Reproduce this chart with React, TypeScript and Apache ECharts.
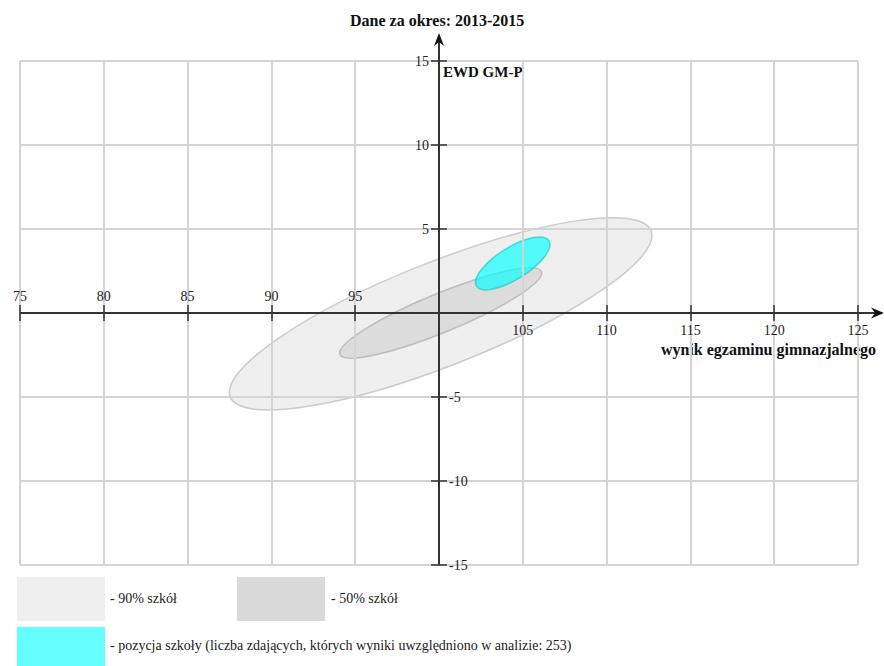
import React, { useEffect, useRef } from "react";
import * as echarts from "echarts";

// ---- data ----
const TITLE = "Dane za okres: 2013-2015";
const Y_NAME = "EWD GM-P";
const X_NAME = "wynik egzaminu gimnazjalnego";

const X_MIN = 75;
const X_MAX = 125;
const X_STEP = 5;
const Y_MIN = -15;
const Y_MAX = 15;
const Y_STEP = 5;
const X_CROSS = 100; // y axis drawn at this x value
const Y_CROSS = 0; // x axis drawn at this y value

// ellipses: 90% of schools, 50% of schools, school position
const ellipseNames = ["90% szkół", "50% szkół", "pozycja szkoły"];
const centerX = [100.1, 100.1, 104.4];
const centerY = [-0.05, 0.0, 2.95];
const semiMajor = [13.5, 6.5, 2.55];
const semiMinor = [3.1, 1.16, 0.95];
const tiltDeg = [21.5, 22.4, 32];

const legendLabels = [
  "- 90% szkół",
  "- 50% szkół",
  "- pozycja szkoły (liczba zdających, których wyniki uwzględniono w analizie: 253)",
];

// ---- styles ----
const FONT = "Liberation Serif, serif";
const W = 884;
const H = 666;
const GRID = { left: 20, right: 26, top: 61, bottom: 101 };
const ellipseFill = [
  "rgba(128,128,128,0.13)",
  "rgba(128,128,128,0.17)",
  "rgba(0,255,255,0.66)",
];
const ellipseStroke = [
  "rgba(150,150,150,0.45)",
  "rgba(140,140,140,0.45)",
  "rgba(0,190,200,0.55)",
];
const legendColors = ["#efefef", "#dadada", "#66ffff"];
const AXIS_COLOR = "#333333";
const GRID_COLOR = "#d4d4d4";

export default function App() {
  const ref = useRef<HTMLDivElement>(null);

  useEffect(() => {
    if (!ref.current) return;
    const chart = echarts.init(ref.current, null, { renderer: "svg" });

    const plotW = W - GRID.left - GRID.right;
    const plotH = H - GRID.top - GRID.bottom;
    const leftOffset = -plotW * (X_CROSS - X_MIN) / (X_MAX - X_MIN);
    const rightOffset = -plotW * (X_MAX - X_CROSS) / (X_MAX - X_MIN);
    const topOffset = -plotH * (Y_MAX - Y_CROSS) / (Y_MAX - Y_MIN);
    const bottomOffset = -plotH * (Y_CROSS - Y_MIN) / (Y_MAX - Y_MIN);

    const labelStyle = {
      color: "#222",
      fontFamily: FONT,
      fontSize: 14,
    };

    const tick = { show: true, length: 8, lineStyle: { color: AXIS_COLOR, width: 1.5 } };

    const baseX = {
      type: "value",
      min: X_MIN,
      max: X_MAX,
      interval: X_STEP,
      z: 3,
      axisLine: { show: false, onZero: false },
      splitLine: { show: true, lineStyle: { color: GRID_COLOR, width: 2 } },
      axisTick: tick,
    };
    const baseY = {
      type: "value",
      min: Y_MIN,
      max: Y_MAX,
      interval: Y_STEP,
      z: 3,
      axisLine: { show: false, onZero: false },
      splitLine: { show: true, lineStyle: { color: GRID_COLOR, width: 2 } },
      axisTick: tick,
    };

    const ellipseData = ellipseNames.map((_, i) => [
      centerX[i],
      centerY[i],
      semiMajor[i],
      semiMinor[i],
      tiltDeg[i],
    ]);

    const ellipseSeries = ellipseNames.map((name, i) => ({
      type: "custom",
      name,
      coordinateSystem: "cartesian2d",
      xAxisIndex: 0,
      yAxisIndex: 0,
      clip: false,
      z: 2 + i * 0.01,
      silent: true,
      encode: { x: 0, y: 1 },
      data: [ellipseData[i]],
      renderItem: (params: any, api: any) => {
        const c = api.coord([api.value(0), api.value(1)]);
        const unit = api.size([1, 1]);
        return {
          type: "ellipse",
          x: c[0],
          y: c[1],
          rotation: (api.value(4) * Math.PI) / 180,
          shape: { cx: 0, cy: 0, rx: api.value(2) * unit[0], ry: api.value(3) * unit[1] },
          style: { fill: ellipseFill[i], stroke: ellipseStroke[i], lineWidth: 1.5 },
        };
      },
    }));

    const axesSeries = {
      type: "custom",
      name: "axes",
      coordinateSystem: "cartesian2d",
      xAxisIndex: 0,
      yAxisIndex: 0,
      clip: false,
      silent: true,
      z: 5,
      encode: { x: 0, y: 1 },
      data: [[X_CROSS, Y_CROSS]],
      renderItem: (params: any, api: any) => {
        const o = api.coord([api.value(0), api.value(1)]);
        const l = api.coord([X_MIN, api.value(1)]);
        const r = api.coord([X_MAX, api.value(1)]);
        const t = api.coord([api.value(0), Y_MAX]);
        const b = api.coord([api.value(0), Y_MIN]);
        const xTip = r[0] + 26;
        const yTip = t[1] - 28;
        const st = { stroke: AXIS_COLOR, lineWidth: 2 };
        return {
          type: "group",
          children: [
            { type: "line", shape: { x1: l[0], y1: o[1], x2: xTip - 6, y2: o[1] }, style: st },
            { type: "line", shape: { x1: o[0], y1: b[1], x2: o[0], y2: yTip + 6 }, style: st },
            {
              type: "polygon",
              shape: {
                points: [
                  [xTip, o[1]],
                  [xTip - 13, o[1] - 5.5],
                  [xTip - 9, o[1]],
                  [xTip - 13, o[1] + 5.5],
                ],
              },
              style: { fill: "#111" },
            },
            {
              type: "polygon",
              shape: {
                points: [
                  [o[0], yTip],
                  [o[0] - 5, yTip + 13],
                  [o[0], yTip + 9],
                  [o[0] + 5, yTip + 13],
                ],
              },
              style: { fill: "#111" },
            },
          ],
        };
      },
    };

    const option: any = {
      animation: false,
      backgroundColor: "#ffffff",
      title: {
        text: TITLE,
        left: 350,
        top: 12,
        padding: 0,
        textStyle: { fontFamily: FONT, fontSize: 16, fontWeight: "bold", color: "#111" },
      },
      grid: { ...GRID, containLabel: false, outerBoundsMode: "none" },
      xAxis: [
        {
          ...baseX,
          position: "bottom",
          offset: bottomOffset,
          axisLabel: {
            ...labelStyle,
            margin: 10,
            formatter: (v: number) => (v > X_CROSS ? String(v) : ""),
          },
        },
        {
          ...baseX,
          position: "top",
          offset: topOffset,
          splitLine: { show: false },
          axisLabel: {
            ...labelStyle,
            margin: 10,
            formatter: (v: number) => (v < X_CROSS ? String(v) : ""),
          },
        },
      ],
      yAxis: [
        {
          ...baseY,
          position: "left",
          offset: leftOffset,
          axisLabel: {
            ...labelStyle,
            margin: 10,
            formatter: (v: number) => (v > Y_CROSS ? String(v) : ""),
          },
        },
        {
          ...baseY,
          position: "right",
          offset: rightOffset,
          splitLine: { show: false },
          axisLabel: {
            ...labelStyle,
            margin: 10,
            formatter: (v: number) => (v < Y_CROSS ? String(v) : ""),
          },
        },
      ],
      graphic: [
        {
          type: "text",
          left: 443,
          top: 64,
          style: { text: Y_NAME, font: `bold 15px ${FONT}`, fill: "#111" },
        },
        {
          type: "text",
          right: 8,
          top: 341,
          style: { text: X_NAME, font: `bold 16px ${FONT}`, fill: "#111" },
        },
        { type: "rect", left: 17, top: 577, shape: { width: 88, height: 44 }, style: { fill: legendColors[0] } },
        { type: "rect", left: 237, top: 577, shape: { width: 88, height: 44 }, style: { fill: legendColors[1] } },
        { type: "rect", left: 17, top: 627, shape: { width: 88, height: 40 }, style: { fill: legendColors[2] } },
        {
          type: "text",
          left: 110,
          top: 591,
          style: { text: legendLabels[0], font: `14px ${FONT}`, fill: "#222" },
        },
        {
          type: "text",
          left: 331,
          top: 591,
          style: { text: legendLabels[1], font: `14px ${FONT}`, fill: "#222" },
        },
        {
          type: "text",
          left: 110,
          top: 638,
          style: { text: legendLabels[2], font: `14px ${FONT}`, fill: "#222" },
        },
      ],
      series: [...ellipseSeries, axesSeries],
    };

    chart.setOption(option);
    return () => chart.dispose();
  }, []);

  return (
    <div
      ref={ref}
      style={{ position: "fixed", left: 0, top: 0, width: W, height: H, background: "#fff" }}
    />
  );
}
